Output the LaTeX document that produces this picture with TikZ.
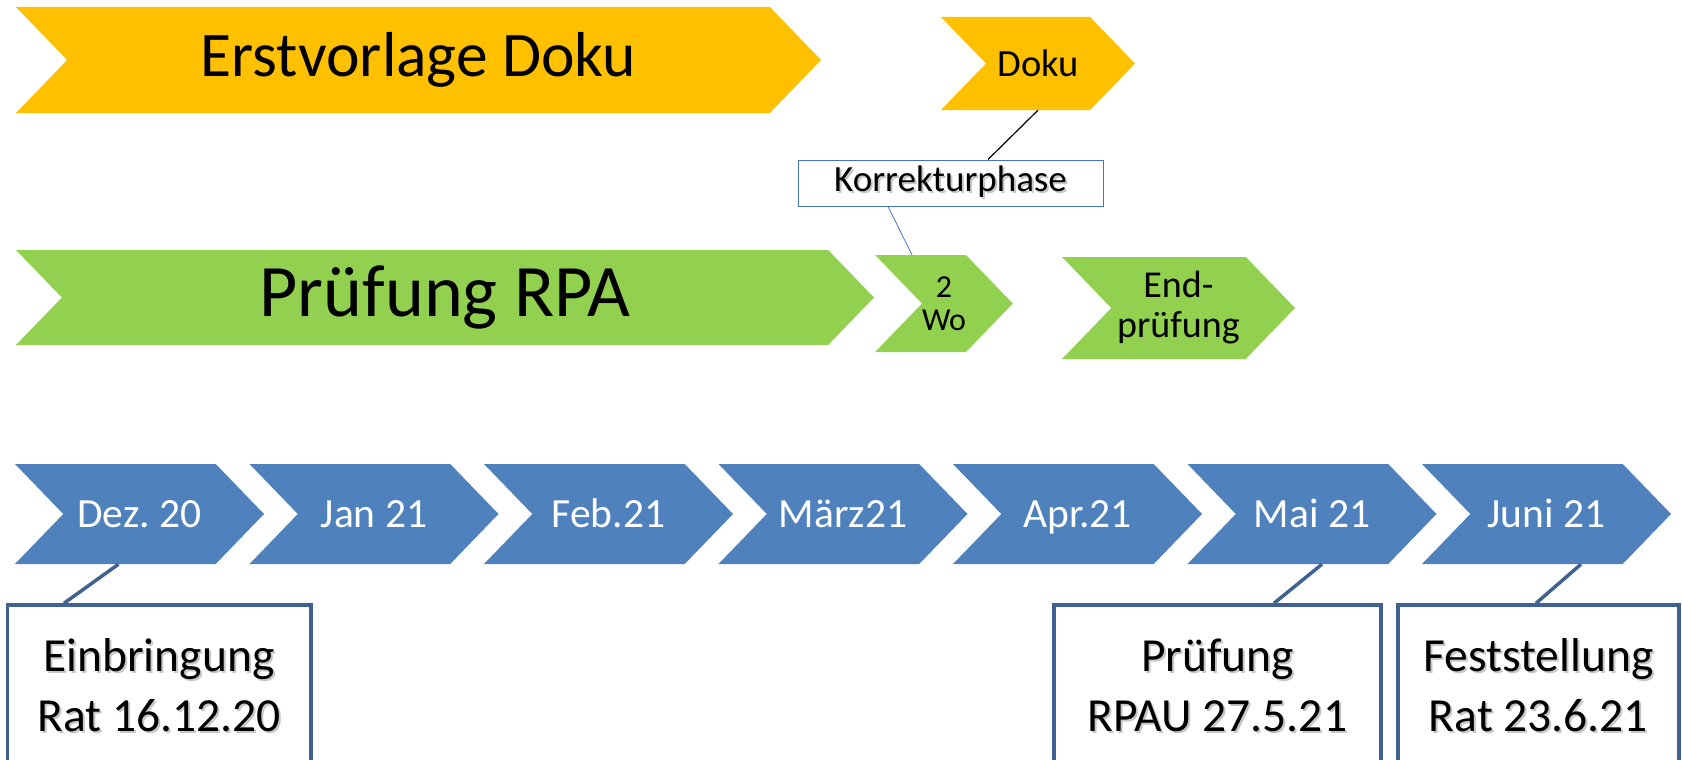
\documentclass[tikz,border=0pt]{standalone}
\usepackage{fontspec}
\setmainfont{Carlito}
\usetikzlibrary{shapes.symbols}
\definecolor{gelb}{HTML}{FFC000}
\definecolor{gruen}{HTML}{92D050}
\definecolor{monat}{HTML}{4F81BD}
\definecolor{rahmen}{HTML}{3F6290}
\definecolor{korrblau}{HTML}{4472C4}
\frenchspacing
\newcommand{\fs}[2]{\fontsize{#1}{#2}\selectfont}
\newcommand{\shtext}[1]{\rlap{\kern2pt\raisebox{-2pt}{\textcolor{black!22}{#1}}}#1}
\tikzset{
  chevron/.style={signal,signal from=west,signal to=east,signal pointer angle=92,inner sep=0pt},
  kasten/.style={draw=rahmen,line width=3.5pt,fill=white,align=center,inner sep=0pt,font=\fs{47.5}{60}},
  verbinder/.style={draw=rahmen,line width=3.5pt}
}
\begin{document}
\begin{tikzpicture}[x=1pt,y=-1pt]
  \useasboundingbox (0,0) rectangle (1682,760);
  \clip (0,0) rectangle (1682,760);
  % Dokumentation
  \node [chevron,fill=gelb,minimum width=805pt,minimum height=106pt,font=\fs{63.5}{76}] (erst) at (418.5,60) {Erstvorlage Doku};
  \node [chevron,fill=gelb,minimum width=194pt,minimum height=93pt,font=\fs{38.5}{46}] (doku) at (1038,63.5) {Doku};
  \node [draw=korrblau,line width=1pt,fill=white,minimum width=305pt,minimum height=46pt,inner sep=0pt,font=\fs{37}{44}] (korr) at (950.5,183) {\shtext{Korrekturphase}};
  % Pruefung
  \node [chevron,fill=gruen,minimum width=858pt,minimum height=95pt,font=\fs{74}{88}] (pruef) at (445,297.5) {Prüfung RPA};
  \node [chevron,fill=gruen,minimum width=136pt,minimum height=97pt,align=center,font=\fs{32}{33}] (zwei) at (944,303.5) {2\\Wo};
  \node [chevron,fill=gruen,minimum width=233pt,minimum height=102pt,align=center,font=\fs{38}{40}] (endp) at (1178.5,308) {End-\\prüfung};
  \draw [black,line width=1.2pt] (doku.south) -- ([xshift=37.5pt]korr.north);
  \draw [korrblau,line width=0.8pt] ([xshift=-62.5pt]korr.south) -- ([xshift=-32pt]zwei.north);
  % Monate
  \foreach \m [count=\i from 0] in {Dez. 20,Jan 21,Feb.21,März21,Apr.21,Mai 21,Juni 21}
    \node [chevron,fill=monat,text=white,minimum width=249pt,minimum height=100pt,text height=26pt,text depth=0pt,font=\fs{41.5}{50}] (m\i) at (139.5+234.5*\i,514) {\m};
  % Termine
  \node [kasten,minimum width=303.5pt,minimum height=162pt] (ein) at (159,686) {\shtext{Einbringung}\\\shtext{Rat 16.12.20}};
  \node [kasten,minimum width=327pt,minimum height=162pt] (rpau) at (1217.5,686) {\shtext{Prüfung}\\\shtext{RPAU 27.5.21}};
  \node [kasten,minimum width=281pt,minimum height=162pt] (fest) at (1538.5,686) {\shtext{Feststellung}\\\shtext{Rat 23.6.21}};
  \draw [verbinder] ([xshift=-21pt]m0.south) -- ([xshift=-95pt]ein.north);
  \draw [verbinder] ([xshift=10pt]m5.south) -- ([xshift=56.5pt]rpau.north);
  \draw [verbinder] ([xshift=34.5pt]m6.south) -- ([xshift=-2.5pt]fest.north);
\end{tikzpicture}
\end{document}
